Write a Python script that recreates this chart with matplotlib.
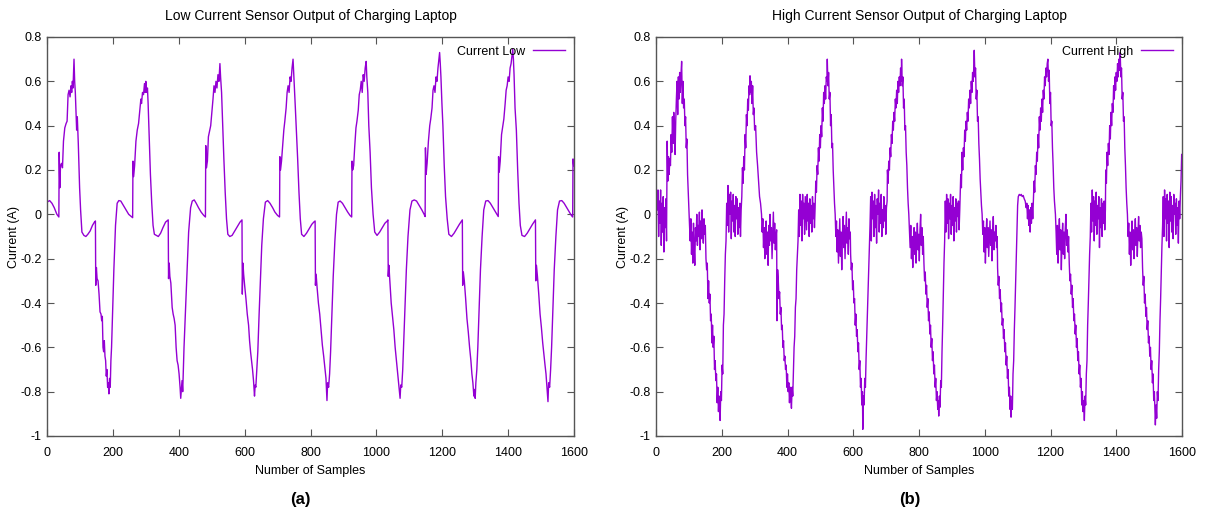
import matplotlib
matplotlib.use("Agg")
import matplotlib.pyplot as plt
from matplotlib.ticker import FuncFormatter

plt.rcParams["font.family"] = ["Liberation Sans", "DejaVu Sans"]
plt.rcParams["font.size"] = 9

# (sample, current) pairs
low_points = [
    (0, 0.055), (8, 0.062), (15, 0.05), (22, 0.03), (30, 0.0), (36, -0.012),
    (37, 0.28), (39, 0.12), (41, 0.22), (44, 0.23), (47, 0.21), (50, 0.33), (54, 0.39),
    (58, 0.41), (61, 0.42), (64, 0.54), (67, 0.56), (70, 0.53), (73, 0.58), (75, 0.55),
    (77, 0.60), (79, 0.57), (82, 0.70), (84, 0.60), (86, 0.55), (88, 0.46), (90, 0.38),
    (92, 0.44), (95, 0.32), (99, 0.12), (102, 0.02), (106, -0.08), (112, -0.095),
    (118, -0.10), (124, -0.09), (131, -0.075), (138, -0.05), (144, -0.035), (147, -0.03),
    (148, -0.32), (150, -0.24), (152, -0.29), (155, -0.30), (158, -0.36), (161, -0.44),
    (164, -0.45), (166, -0.48), (168, -0.46), (170, -0.60), (172, -0.62), (174, -0.57),
    (176, -0.64), (178, -0.66), (180, -0.73), (182, -0.70), (184, -0.78), (186, -0.76),
    (188, -0.81), (190, -0.74), (192, -0.78), (194, -0.66), (196, -0.60), (199, -0.45),
    (203, -0.25), (208, -0.05), (213, 0.05), (218, 0.062), (224, 0.06), (232, 0.04),
    (240, 0.02), (248, 0.0), (256, -0.01), (260, -0.015),
    (261, 0.24), (263, 0.17), (266, 0.22), (270, 0.33), (274, 0.38), (278, 0.41),
    (282, 0.47), (285, 0.52), (287, 0.50), (290, 0.55), (293, 0.54), (296, 0.59),
    (298, 0.55), (300, 0.60), (302, 0.55), (305, 0.57), (307, 0.50), (310, 0.36),
    (314, 0.18), (318, 0.05), (322, -0.05), (326, -0.09), (332, -0.095), (338, -0.10),
    (345, -0.085), (352, -0.06), (360, -0.035), (368, -0.025),
    (369, -0.29), (371, -0.22), (373, -0.28), (376, -0.31), (380, -0.42), (383, -0.45),
    (386, -0.47), (389, -0.50), (392, -0.60), (395, -0.66), (398, -0.68), (401, -0.72),
    (404, -0.78), (406, -0.83), (408, -0.79), (410, -0.75), (412, -0.80), (414, -0.70),
    (416, -0.60), (420, -0.45), (425, -0.25), (430, -0.08), (436, 0.03), (441, 0.06),
    (447, 0.065), (453, 0.05), (460, 0.03), (468, 0.01), (476, -0.005), (481, -0.012),
    (482, 0.31), (484, 0.21), (487, 0.24), (490, 0.35), (494, 0.38), (497, 0.40),
    (500, 0.45), (504, 0.52), (507, 0.58), (510, 0.55), (513, 0.60), (516, 0.57),
    (519, 0.63), (522, 0.60), (525, 0.68), (527, 0.62), (530, 0.55), (533, 0.42),
    (537, 0.25), (541, 0.10), (545, -0.02), (549, -0.09), (555, -0.10), (562, -0.095),
    (570, -0.075), (578, -0.055), (586, -0.035), (592, -0.025),
    (593, -0.36), (595, -0.22), (597, -0.27), (600, -0.32), (604, -0.38), (608, -0.45),
    (612, -0.50), (615, -0.57), (618, -0.62), (621, -0.66), (624, -0.70), (627, -0.75),
    (630, -0.82), (632, -0.77), (634, -0.78), (637, -0.70), (640, -0.62), (644, -0.45),
    (648, -0.30), (652, -0.14), (657, -0.02), (663, 0.055), (670, 0.062), (677, 0.05),
    (685, 0.03), (692, 0.01), (700, -0.005), (706, -0.012),
    (707, 0.26), (709, 0.20), (712, 0.24), (715, 0.30), (719, 0.38), (722, 0.42),
    (726, 0.48), (729, 0.55), (732, 0.58), (735, 0.55), (738, 0.62), (741, 0.60),
    (744, 0.66), (747, 0.70), (749, 0.64), (751, 0.58), (754, 0.48), (757, 0.38),
    (761, 0.25), (765, 0.10), (769, -0.02), (773, -0.09), (780, -0.10), (788, -0.085),
    (796, -0.065), (804, -0.045), (810, -0.035), (814, -0.03),
    (815, -0.32), (817, -0.27), (820, -0.33), (824, -0.40), (828, -0.45), (832, -0.52),
    (836, -0.59), (840, -0.64), (844, -0.70), (847, -0.74), (850, -0.84), (852, -0.76),
    (855, -0.78), (858, -0.72), (861, -0.62), (865, -0.45), (869, -0.28), (874, -0.12),
    (879, 0.0), (884, 0.055), (890, 0.06), (897, 0.05), (905, 0.03), (913, 0.01),
    (920, -0.005), (925, -0.012),
    (926, 0.24), (928, 0.20), (931, 0.22), (934, 0.30), (938, 0.39), (941, 0.42),
    (945, 0.47), (948, 0.54), (951, 0.56), (954, 0.60), (957, 0.55), (960, 0.63),
    (963, 0.60), (966, 0.66), (969, 0.69), (971, 0.62), (974, 0.55), (977, 0.40),
    (981, 0.28), (985, 0.12), (990, 0.0), (995, -0.08), (1002, -0.095), (1010, -0.08),
    (1018, -0.06), (1026, -0.04), (1033, -0.03), (1035, -0.025),
    (1036, -0.28), (1038, -0.23), (1041, -0.30), (1045, -0.40), (1049, -0.46),
    (1053, -0.52), (1057, -0.60), (1061, -0.66), (1064, -0.70), (1067, -0.75),
    (1070, -0.80), (1072, -0.83), (1074, -0.77), (1077, -0.78), (1080, -0.70),
    (1083, -0.58), (1087, -0.42), (1091, -0.25), (1096, -0.10), (1102, 0.02),
    (1108, 0.06), (1115, 0.065), (1122, 0.06), (1130, 0.04), (1138, 0.02), (1145, 0.0),
    (1148, -0.01),
    (1149, 0.30), (1151, 0.18), (1154, 0.23), (1158, 0.33), (1162, 0.40), (1165, 0.43),
    (1169, 0.48), (1172, 0.56), (1175, 0.58), (1178, 0.55), (1181, 0.62), (1184, 0.60),
    (1187, 0.66), (1190, 0.70), (1192, 0.73), (1194, 0.68), (1196, 0.62), (1199, 0.50),
    (1202, 0.40), (1206, 0.22), (1210, 0.08), (1215, -0.02), (1220, -0.09),
    (1228, -0.10), (1236, -0.085), (1244, -0.065), (1252, -0.045), (1259, -0.03),
    (1261, -0.025),
    (1262, -0.32), (1264, -0.26), (1267, -0.30), (1271, -0.38), (1275, -0.47),
    (1279, -0.53), (1283, -0.60), (1287, -0.66), (1290, -0.72), (1293, -0.76),
    (1296, -0.82), (1298, -0.79), (1300, -0.83), (1302, -0.76), (1305, -0.70),
    (1308, -0.60), (1312, -0.42), (1316, -0.25), (1321, -0.10), (1326, 0.02),
    (1332, 0.06), (1339, 0.062), (1346, 0.05), (1354, 0.03), (1362, 0.01),
    (1368, -0.005), (1370, -0.01),
    (1371, 0.26), (1373, 0.19), (1376, 0.24), (1380, 0.36), (1384, 0.40), (1387, 0.43),
    (1391, 0.50), (1394, 0.56), (1397, 0.58), (1400, 0.62), (1403, 0.60), (1406, 0.66),
    (1409, 0.68), (1412, 0.72), (1414, 0.745), (1416, 0.70), (1418, 0.63), (1421, 0.48),
    (1425, 0.38), (1429, 0.20), (1433, 0.05), (1437, -0.05), (1442, -0.095),
    (1450, -0.10), (1458, -0.085), (1466, -0.065), (1474, -0.045), (1481, -0.03),
    (1483, -0.025),
    (1484, -0.30), (1486, -0.23), (1489, -0.28), (1493, -0.36), (1497, -0.45),
    (1501, -0.51), (1505, -0.58), (1509, -0.64), (1512, -0.68), (1515, -0.72),
    (1518, -0.78), (1521, -0.845), (1523, -0.76), (1526, -0.78), (1529, -0.70),
    (1532, -0.60), (1536, -0.42), (1540, -0.25), (1545, -0.10), (1550, 0.02),
    (1556, 0.06), (1563, 0.062), (1570, 0.05), (1578, 0.03), (1586, 0.01),
    (1592, -0.005), (1596, -0.012), (1597, 0.25), (1599, 0.22),
]

# (sample, current) pairs
high_points = [
    (0, -0.06), (2, 0.10), (4, 0.02), (6, 0.11), (8, -0.10), (10, 0.06), (12, -0.04),
    (14, 0.11), (16, -0.14), (18, 0.05), (20, -0.08), (22, 0.08), (24, -0.17), (26, 0.03),
    (28, -0.06), (30, 0.07), (32, -0.12),
    (34, 0.33), (36, 0.15), (38, 0.26), (40, 0.18), (42, 0.25), (44, 0.22), (46, 0.36),
    (48, 0.28), (50, 0.44), (52, 0.32), (54, 0.46), (56, 0.38), (58, 0.27), (60, 0.42),
    (62, 0.52), (64, 0.60), (66, 0.45), (68, 0.62), (70, 0.52), (72, 0.64), (74, 0.55),
    (76, 0.63), (78, 0.69), (80, 0.50), (82, 0.60), (84, 0.48), (86, 0.52), (88, 0.40),
    (90, 0.44), (92, 0.30), (94, 0.34), (96, 0.18), (98, 0.10), (100, 0.02),
    (102, -0.05), (104, -0.12), (106, -0.02), (108, -0.18), (110, -0.08), (112, -0.22),
    (114, -0.04), (116, -0.15), (118, -0.23), (120, -0.06), (122, -0.12), (124, 0.0),
    (126, -0.14), (128, -0.05), (130, -0.10), (132, 0.01), (134, -0.16), (136, -0.03),
    (138, -0.11), (140, 0.02), (142, -0.08), (144, -0.13), (146, -0.02), (148, -0.09),
    (150, -0.05),
    (152, -0.20), (154, -0.25), (156, -0.22), (158, -0.38), (160, -0.30), (162, -0.40),
    (164, -0.36), (166, -0.48), (168, -0.45), (170, -0.58), (172, -0.50), (174, -0.60),
    (176, -0.55), (178, -0.70), (180, -0.66), (182, -0.75), (184, -0.72), (186, -0.85),
    (188, -0.78), (190, -0.89), (192, -0.82), (194, -0.86), (195, -0.93), (197, -0.80),
    (199, -0.84), (201, -0.68), (203, -0.72), (205, -0.50), (207, -0.45), (209, -0.30),
    (211, -0.18),
    (213, -0.12), (215, 0.05), (217, -0.05), (219, 0.13), (221, -0.08), (223, 0.09),
    (225, 0.0), (227, 0.10), (229, -0.11), (231, 0.06), (233, -0.03), (235, 0.09),
    (237, -0.08), (239, 0.04), (241, -0.10), (243, 0.08), (245, -0.02), (247, 0.07),
    (249, -0.09), (251, 0.03), (253, -0.06), (255, 0.05), (257, -0.10), (259, 0.02),
    (261, 0.08),
    (263, 0.21), (265, 0.14), (267, 0.26), (269, 0.20), (271, 0.36), (273, 0.30),
    (275, 0.45), (277, 0.40), (279, 0.52), (281, 0.47), (283, 0.58), (285, 0.54),
    (286, 0.625), (288, 0.55), (290, 0.60), (292, 0.50), (294, 0.58), (296, 0.45),
    (298, 0.48), (300, 0.38), (303, 0.40), (306, 0.28), (309, 0.22), (312, 0.15),
    (315, 0.08), (318, 0.05), (321, 0.0),
    (323, -0.08), (325, -0.02), (327, -0.15), (329, -0.06), (331, -0.20), (333, -0.10),
    (335, -0.03), (337, -0.18), (339, -0.08), (341, -0.23), (343, -0.05), (345, -0.14),
    (347, 0.0), (349, -0.12), (351, -0.06), (353, -0.20), (355, -0.09), (357, 0.01),
    (359, -0.13), (361, -0.04), (363, -0.16), (365, -0.10), (367, -0.07),
    (368, -0.48), (370, -0.25), (372, -0.30), (374, -0.38), (376, -0.35), (378, -0.45),
    (380, -0.42), (382, -0.52), (384, -0.50), (386, -0.60), (388, -0.57), (390, -0.66),
    (392, -0.64), (394, -0.70), (396, -0.68), (398, -0.78), (400, -0.72), (402, -0.80),
    (404, -0.76), (406, -0.85), (408, -0.78), (410, -0.82), (412, -0.875), (414, -0.78),
    (416, -0.82), (418, -0.70), (420, -0.60), (422, -0.55), (424, -0.42), (426, -0.38),
    (428, -0.25), (430, -0.18), (432, -0.12),
    (434, 0.02), (436, -0.10), (438, 0.09), (440, -0.05), (442, 0.06), (444, -0.12),
    (446, 0.09), (448, -0.02), (450, 0.05), (452, -0.09), (454, 0.08), (456, 0.0),
    (458, -0.07), (460, 0.09), (462, -0.03), (464, 0.05), (466, -0.10), (468, 0.07),
    (470, -0.04), (472, 0.04), (474, -0.08), (476, 0.08), (478, -0.02), (480, 0.05),
    (482, -0.06), (484, 0.03),
    (486, 0.15), (488, 0.10), (490, 0.22), (492, 0.18), (494, 0.30), (496, 0.24),
    (498, 0.36), (500, 0.30), (502, 0.40), (504, 0.35), (506, 0.48), (508, 0.42),
    (510, 0.55), (512, 0.50), (514, 0.58), (516, 0.52), (518, 0.62), (520, 0.60),
    (521, 0.70), (523, 0.58), (525, 0.64), (527, 0.52), (529, 0.55), (531, 0.40),
    (533, 0.45), (535, 0.30), (537, 0.32), (539, 0.20), (541, 0.12), (543, 0.05),
    (545, 0.0),
    (547, -0.10), (549, -0.03), (551, -0.17), (553, -0.07), (555, -0.22), (557, -0.12),
    (559, -0.02), (561, -0.19), (563, -0.08), (565, -0.25), (567, -0.10), (569, -0.01),
    (571, -0.15), (573, -0.05), (575, -0.20), (577, -0.09), (579, 0.01), (581, -0.13),
    (583, -0.06), (585, -0.18), (587, -0.02), (589, -0.11), (591, -0.08),
    (592, -0.18), (594, -0.25), (596, -0.22), (598, -0.34), (600, -0.30), (602, -0.40),
    (604, -0.38), (606, -0.50), (608, -0.45), (610, -0.55), (612, -0.52), (614, -0.62),
    (616, -0.58), (618, -0.70), (620, -0.66), (622, -0.78), (624, -0.74), (626, -0.86),
    (628, -0.80), (629, -0.97), (631, -0.82), (633, -0.86), (635, -0.74), (637, -0.78),
    (639, -0.65), (641, -0.55), (643, -0.45), (645, -0.35), (647, -0.25), (649, -0.15),
    (651, -0.05), (653, 0.08), (655, -0.12), (657, 0.10), (659, -0.02), (661, 0.06),
    (663, -0.10), (665, 0.09), (667, -0.06), (669, 0.04), (671, -0.13), (673, 0.07),
    (675, 0.0), (677, 0.11), (679, -0.08), (681, 0.05), (683, -0.04), (685, 0.09),
    (687, -0.10), (689, 0.02), (691, -0.06), (693, 0.08), (695, -0.03), (697, 0.04),
    (699, -0.09), (701, 0.03), (703, 0.06),
    (704, 0.20), (706, 0.14), (708, 0.24), (710, 0.20), (712, 0.30), (714, 0.26),
    (716, 0.36), (718, 0.32), (720, 0.42), (722, 0.38), (724, 0.46), (726, 0.42),
    (728, 0.52), (730, 0.48), (732, 0.56), (734, 0.50), (736, 0.60), (738, 0.55),
    (740, 0.62), (742, 0.58), (744, 0.66), (746, 0.60), (747, 0.70), (749, 0.58),
    (751, 0.62), (753, 0.48), (755, 0.52), (757, 0.38), (759, 0.40), (761, 0.28),
    (763, 0.22), (765, 0.12), (767, 0.05), (769, 0.0),
    (771, -0.08), (773, -0.15), (775, -0.05), (777, -0.20), (779, -0.10), (781, -0.24),
    (783, -0.12), (785, -0.06), (787, -0.18), (789, -0.08), (791, -0.22), (793, -0.12),
    (795, -0.04), (797, -0.16), (799, -0.09), (801, -0.21), (803, -0.07), (805, 0.0),
    (807, -0.14), (809, -0.06), (811, -0.18), (813, -0.10),
    (815, -0.22), (817, -0.30), (819, -0.26), (821, -0.36), (823, -0.32), (825, -0.42),
    (827, -0.38), (829, -0.48), (831, -0.44), (833, -0.54), (835, -0.50), (837, -0.60),
    (839, -0.56), (841, -0.66), (843, -0.62), (845, -0.72), (847, -0.68), (849, -0.78),
    (851, -0.74), (853, -0.84), (855, -0.80), (857, -0.88), (859, -0.84), (860, -0.91),
    (862, -0.82), (864, -0.87), (866, -0.75), (868, -0.78), (870, -0.62), (872, -0.50),
    (874, -0.35), (876, -0.22), (878, -0.12),
    (880, 0.06), (882, -0.08), (884, 0.09), (886, -0.04), (888, 0.07), (890, -0.11),
    (892, 0.05), (894, -0.02), (896, 0.09), (898, -0.09), (900, 0.04), (902, -0.05),
    (904, 0.08), (906, -0.12), (908, 0.03), (910, -0.03), (912, 0.07), (914, -0.08),
    (916, 0.05), (918, -0.01), (920, 0.06), (922, -0.07), (924, 0.02),
    (927, 0.18), (929, 0.12), (931, 0.28), (933, 0.20), (935, 0.30), (937, 0.26),
    (939, 0.38), (941, 0.33), (943, 0.42), (945, 0.38), (947, 0.46), (949, 0.42),
    (951, 0.52), (953, 0.48), (955, 0.56), (957, 0.50), (959, 0.60), (961, 0.55),
    (963, 0.64), (965, 0.60), (967, 0.68), (968, 0.74), (970, 0.62), (972, 0.66),
    (974, 0.52), (976, 0.56), (978, 0.42), (980, 0.44), (982, 0.32), (984, 0.25),
    (986, 0.16), (988, 0.10), (990, 0.04), (992, 0.0),
    (994, -0.09), (996, -0.03), (998, -0.17), (1000, -0.06), (1002, -0.22),
    (1004, -0.10), (1006, -0.02), (1008, -0.15), (1010, -0.06), (1012, -0.19),
    (1014, -0.11), (1016, -0.03), (1018, -0.14), (1020, -0.07), (1022, -0.21),
    (1024, -0.09), (1026, -0.01), (1028, -0.16), (1030, -0.08), (1032, -0.12),
    (1034, -0.05), (1036, -0.15), (1038, -0.10),
    (1039, -0.24), (1041, -0.32), (1043, -0.28), (1045, -0.38), (1047, -0.34),
    (1049, -0.44), (1051, -0.40), (1053, -0.50), (1055, -0.47), (1057, -0.56),
    (1059, -0.52), (1061, -0.62), (1063, -0.58), (1065, -0.68), (1067, -0.64),
    (1069, -0.74), (1071, -0.70), (1073, -0.82), (1075, -0.78), (1077, -0.88),
    (1079, -0.82), (1080, -0.915), (1082, -0.84), (1084, -0.88), (1086, -0.72),
    (1088, -0.66), (1090, -0.52), (1092, -0.42), (1094, -0.30), (1096, -0.18),
    (1098, -0.08),
    (1100, 0.04), (1102, 0.08), (1105, 0.09), (1108, 0.085), (1111, 0.09), (1114, 0.08),
    (1117, 0.085), (1120, 0.07), (1123, 0.06), (1126, 0.03), (1128, 0.05), (1130, -0.02),
    (1132, 0.04), (1134, -0.05), (1136, 0.02), (1138, -0.08), (1140, 0.03), (1142, -0.04),
    (1144, 0.05), (1146, -0.02), (1148, 0.06),
    (1150, 0.15), (1152, 0.10), (1154, 0.22), (1156, 0.18), (1158, 0.28), (1160, 0.24),
    (1162, 0.36), (1164, 0.30), (1166, 0.44), (1168, 0.38), (1170, 0.48), (1172, 0.42),
    (1174, 0.52), (1176, 0.46), (1178, 0.56), (1180, 0.52), (1182, 0.62), (1184, 0.58),
    (1186, 0.66), (1188, 0.62), (1190, 0.68), (1192, 0.70), (1194, 0.60), (1196, 0.65),
    (1198, 0.50), (1200, 0.55), (1202, 0.40), (1204, 0.42), (1206, 0.30), (1208, 0.22),
    (1210, 0.12), (1212, 0.06), (1215, 0.0),
    (1217, -0.08), (1219, -0.18), (1221, -0.05), (1223, -0.22), (1225, -0.10),
    (1227, -0.02), (1229, -0.16), (1231, -0.07), (1233, -0.25), (1235, -0.11),
    (1237, -0.04), (1239, -0.18), (1241, -0.08), (1243, -0.20), (1245, -0.06),
    (1247, 0.0), (1249, -0.14), (1251, -0.07), (1253, -0.17), (1255, -0.10),
    (1257, -0.22), (1259, -0.30), (1261, -0.27), (1263, -0.36), (1265, -0.32),
    (1267, -0.42), (1269, -0.38), (1271, -0.48), (1273, -0.45), (1275, -0.54),
    (1277, -0.50), (1279, -0.60), (1281, -0.56), (1283, -0.66), (1285, -0.62),
    (1287, -0.72), (1289, -0.68), (1291, -0.78), (1293, -0.74), (1295, -0.86),
    (1297, -0.80), (1299, -0.89), (1301, -0.84), (1303, -0.93), (1305, -0.82),
    (1307, -0.86), (1309, -0.72), (1311, -0.66), (1313, -0.50), (1315, -0.40),
    (1317, -0.28), (1319, -0.18), (1321, -0.10),
    (1323, 0.05), (1325, -0.08), (1327, 0.11), (1329, -0.03), (1331, 0.08), (1333, -0.12),
    (1335, 0.06), (1337, -0.05), (1339, 0.10), (1341, -0.09), (1343, 0.04), (1345, -0.02),
    (1347, 0.08), (1349, -0.15), (1351, 0.03), (1353, -0.06), (1355, 0.07), (1357, -0.10),
    (1359, 0.05), (1361, -0.04), (1363, 0.06), (1365, -0.07), (1367, 0.02),
    (1368, 0.20), (1370, 0.14), (1372, 0.28), (1374, 0.22), (1376, 0.32), (1378, 0.27),
    (1380, 0.40), (1382, 0.34), (1384, 0.46), (1386, 0.40), (1388, 0.50), (1390, 0.46),
    (1392, 0.58), (1394, 0.52), (1396, 0.62), (1398, 0.56), (1400, 0.64), (1402, 0.60),
    (1404, 0.68), (1406, 0.62), (1408, 0.70), (1410, 0.65), (1412, 0.73), (1414, 0.62),
    (1416, 0.66), (1418, 0.52), (1420, 0.55), (1422, 0.42), (1424, 0.44), (1426, 0.30),
    (1428, 0.22), (1430, 0.12), (1432, 0.05), (1434, 0.0),
    (1436, -0.10), (1438, -0.04), (1440, -0.18), (1442, -0.08), (1444, -0.23),
    (1446, -0.12), (1448, -0.03), (1450, -0.16), (1452, -0.07), (1454, -0.20),
    (1456, -0.10), (1458, -0.02), (1460, -0.14), (1462, -0.06), (1464, -0.19),
    (1466, -0.09), (1468, -0.01), (1470, -0.12), (1472, -0.05), (1474, -0.15),
    (1476, -0.08), (1478, -0.11),
    (1480, -0.24), (1482, -0.32), (1484, -0.28), (1486, -0.40), (1488, -0.36),
    (1490, -0.46), (1492, -0.42), (1494, -0.52), (1496, -0.48), (1498, -0.58),
    (1500, -0.55), (1502, -0.64), (1504, -0.60), (1506, -0.70), (1508, -0.66),
    (1510, -0.76), (1512, -0.72), (1514, -0.84), (1516, -0.80), (1518, -0.90),
    (1519, -0.95), (1521, -0.86), (1523, -0.92), (1525, -0.80), (1527, -0.84),
    (1529, -0.70), (1531, -0.62), (1533, -0.48), (1535, -0.38), (1537, -0.25),
    (1539, -0.14),
    (1541, -0.05), (1543, 0.08), (1545, -0.10), (1547, 0.11), (1549, -0.02), (1551, 0.07),
    (1553, -0.12), (1555, 0.09), (1557, -0.04), (1559, 0.06), (1561, -0.15), (1563, 0.10),
    (1565, -0.03), (1567, 0.08), (1569, -0.08), (1571, 0.04), (1573, -0.11), (1575, 0.09),
    (1577, 0.0), (1579, 0.05), (1581, -0.09), (1583, 0.07), (1585, -0.05), (1587, 0.03),
    (1589, -0.13), (1591, 0.06), (1593, -0.02), (1595, 0.08), (1597, 0.15), (1599, 0.27),
]

titles = ["Low Current Sensor Output of Charging Laptop",
          "High Current Sensor Output of Charging Laptop"]
series_names = ["Current Low", "Current High"]
panel_tags = ["(a)", "(b)"]
x_ticks = [0, 200, 400, 600, 800, 1000, 1200, 1400, 1600]
y_ticks = [0.8, 0.6, 0.4, 0.2, 0, -0.2, -0.4, -0.6, -0.8, -1]

line_color = "#9400d3"
frame_color = "#555555"

fig = plt.figure(figsize=(12.05, 5.18), dpi=100)
axes_boxes = [(47 / 1205, 82 / 518, 527 / 1205, 399 / 518),
              (656 / 1205, 82 / 518, 526 / 1205, 399 / 518)]

for box, points, title, name, tag in zip(axes_boxes, [low_points, high_points],
                                         titles, series_names, panel_tags):
    ax = fig.add_axes(box)
    xs = [p[0] for p in points]
    ys = [p[1] for p in points]
    ax.plot(xs, ys, color=line_color, linewidth=1.0, label=name)

    ax.set_xlim(0, 1600)
    ax.set_ylim(-1, 0.8)
    ax.set_xticks(x_ticks)
    ax.set_yticks(y_ticks)
    ax.yaxis.set_major_formatter(FuncFormatter(lambda v, _: f"{v:g}"))
    ax.tick_params(direction="in", length=5, width=0.8, color=frame_color,
                   top=True, right=True, labelsize=9)
    ax.tick_params(axis="x", pad=8)
    ax.tick_params(axis="y", pad=4)
    for spine in ax.spines.values():
        spine.set_color(frame_color)
        spine.set_linewidth(1.0)

    ax.set_title(title, fontsize=10, pad=12)
    ax.set_xlabel("Number of Samples", fontsize=9, labelpad=4)
    ax.set_ylabel("Current (A)", fontsize=9)
    ax.yaxis.set_label_coords(-0.052, 0.5)

    ax.legend(loc="upper right", frameon=False, markerfirst=False, fontsize=9,
              handlelength=2.6, handletextpad=0.6, borderaxespad=0.3)

    cx = box[0] + box[2] / 2
    fig.text(cx - 0.008, 0.035, tag, ha="center", va="center",
             fontsize=12, fontweight="bold")

fig.savefig("out.png", dpi=100)
